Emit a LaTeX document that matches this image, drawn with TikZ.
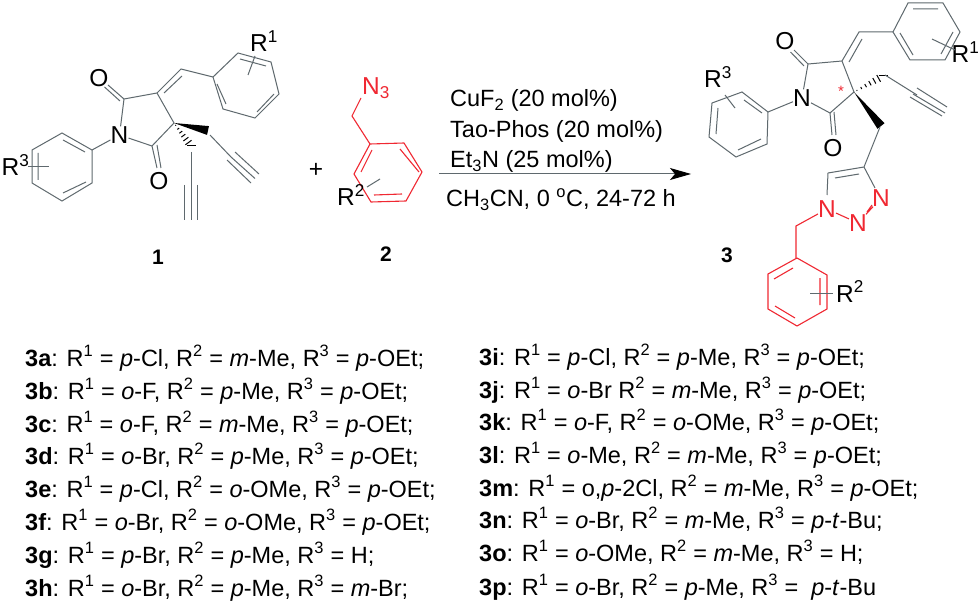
\documentclass[tikz,border=0pt]{standalone}
\usepackage{fontspec}
\setmainfont{Liberation Sans}
\usetikzlibrary{calc,arrows.meta}
\definecolor{azide}{RGB}{240,40,50}
\definecolor{bondgray}{RGB}{95,105,110}
\tikzset{
    bond/.style={bondgray, line width=1pt},
    redbond/.style={azide, line width=1.1pt},
    atomlabel/.style={inner sep=0pt, font=\fontsize{24.5}{26}\selectfont},
    redlabel/.style={atomlabel, text=azide},
    subst/.style={atomlabel, anchor=base west},
    cpdlabel/.style={inner sep=0pt, font=\fontsize{21}{24}\selectfont\bfseries},
    condition/.style={inner sep=0pt, anchor=base west, font=\fontsize{23.5}{26}\selectfont},
    entry/.style={inner sep=0pt, anchor=base west, font=\fontsize{23.5}{26}\selectfont}
}
\newcommand{\wedgebond}[3]{\fill [black] (#1) -- ($(#2)!#3!90:(#1)$) -- ($(#2)!#3!-90:(#1)$) -- cycle;}
\newcommand{\hashbond}[2]{\foreach \t in {0.1,0.25,...,1.01} {
    \draw [bond, black] ($(#1)!\t!(#2)!\t*4.5pt!90:(#2)$) -- ($(#1)!\t!(#2)!\t*4.5pt!-90:(#2)$);}}
\newcommand{\Rsub}[2]{R\textsuperscript{#1} = #2}
\begin{document}
\begin{tikzpicture}[x=1pt, y=-1pt]
    \useasboundingbox [fill=white] (0, 0) rectangle (980, 604);

    % Compound 1
    \node [atomlabel] (n1) at (119.5, 135) {N};
    \node [atomlabel] (o1a) at (99, 78) {O};
    \node [atomlabel] (o1b) at (159, 181) {O};
    \draw [bond] (n1) -- (124, 99) -- (157, 93) -- (174, 123) -- (152, 146) -- (n1);
    \draw [bond] (124, 99) -- (108, 85) (120, 101) -- (104.5, 87);
    \draw [bond] (152, 146) -- (157, 168) (157, 145) -- (161, 168);
    \draw [bond] (157, 93) -- (181, 69) -- (213, 77) (164, 93) -- (182, 76);
    \draw [bond] (213, 77) -- (238, 53) -- (271, 62) -- (279, 94) -- (255, 118) -- (223, 109) -- cycle;
    \draw [bond] (217, 84) -- (226, 104) (257, 112) -- (274, 94) (240, 59) -- (266, 66);
    \node [subst] (r1a) at (250, 52) {R\textsuperscript{1}};
    \draw [bond] (248, 75) -- (255, 56);
    \wedgebond{174, 123}{208, 130.5}{4.5pt}
    \draw [bond] (210, 135) -- (231, 157);
    \draw [bond] (235, 152) -- (259, 174) (231, 157) -- (255, 178.5) (227, 160) -- (251, 183);
    \hashbond{174, 123}{191, 146}
    \draw [bond] (191, 152) -- (191, 220) (184, 185) -- (184, 220) (197.5, 185) -- (197.5, 220);
    \draw [bond] (n1) -- (92, 150);
    \draw [bond] (92, 150) -- (62, 133) -- (32, 150) -- (32, 183) -- (62, 201) -- (92, 183) -- cycle;
    \draw [bond] (63, 140) -- (85, 152) (38, 153) -- (38, 180) (63, 193) -- (86, 182);
    \node [subst] (r3a) at (1.5, 176) {R\textsuperscript{3}};
    \draw [bond] (28, 167) -- (49, 167);
    \node [cpdlabel] (c1) at (158, 257) {1};

    \node [atomlabel] (plus) at (316, 170) {+};

    % Compound 2
    \node [subst, text=azide] (n3) at (362, 95) {N\textsubscript{3}};
    \draw [redbond] (361, 98) -- (352, 116) -- (370, 144);
    \draw [redbond] (370, 144) -- (404, 143) -- (422, 172) -- (406, 201) -- (371, 202) -- (354, 174) -- cycle;
    \draw [redbond] (372, 150) -- (361, 172) (400, 149) -- (419, 172) (374, 195) -- (402, 194);
    \node [subst] (r2a) at (337, 206) {R\textsuperscript{2}};
    \draw [bond] (367, 187) -- (380, 179);
    \node [cpdlabel] (c2) at (386, 254) {2};

    % Reaction
    \coordinate (arrowstart) at (439, 174);
    \coordinate (arrowend) at (691, 174);
    \draw [bondgray, line width=1pt, -{Stealth[black, length=21pt, width=12pt, inset=5pt]}] (arrowstart) -- (arrowend);
    \node [condition] (cond1) at (450, 107) {CuF\textsubscript{2} (20 mol\%)};
    \node [condition] (cond2) at (450, 138) {Tao-Phos (20 mol\%)};
    \node [condition] (cond3) at (450, 168) {Et\textsubscript{3}N (25 mol\%)};
    \node [condition] (cond4) at (446, 207) {CH\textsubscript{3}CN, 0 \textsuperscript{o}C, 24-72 h};

    % Compound 3
    \node [atomlabel] (n2) at (802, 98) {N};
    \node [atomlabel] (o3a) at (785, 41) {O};
    \node [atomlabel] (o3b) at (833, 148) {O};
    \draw [bond] (n2) -- (808, 64) -- (842, 61) -- (854, 92) -- (830, 113) -- (n2);
    \draw [bond] (808, 64) -- (794, 50) (804, 66) -- (790.5, 52);
    \draw [bond] (830, 113) -- (832, 135) (834, 112) -- (836, 135);
    \draw [bond] (842, 61) -- (859, 32) -- (893, 32) (849, 62) -- (862, 39);
    \draw [bond] (893, 32) -- (908, 3) -- (943, 3) -- (960, 32) -- (945, 60) -- (910, 60) -- cycle;
    \draw [bond] (913, 9) -- (938, 9) (953, 32) -- (941, 54) (900, 33) -- (913, 55);
    \node [subst] (r1c) at (951.5, 63) {R\textsuperscript{1}};
    \draw [bond] (932, 39) -- (955, 50);
    \hashbond{854, 92}{883, 76}
    \draw [bond] (885, 75) -- (917, 95);
    \draw [bond] (917, 88) -- (947, 107) (913, 94) -- (945, 113) (910, 97) -- (942, 116);
    \wedgebond{854, 92}{881, 126}{4.5pt}
    \draw [bond] (880, 127) -- (864, 167);
    \draw [bond] (864, 167) -- (828, 173) (859, 174) -- (835, 178);
    \draw [bond] (828, 173) -- (827, 195) (864, 167) -- (875, 188);
    \node [subst] (r3c) at (704, 88) {R\textsuperscript{3}};
    \draw [bond] (n2) -- (768, 112);
    \draw [bond] (768, 112) -- (742, 92) -- (712, 103) -- (709, 137) -- (736, 157) -- (767, 144) -- cycle;
    \draw [bond] (744, 100) -- (762, 113) (718, 108) -- (716, 134) (738, 150) -- (761, 139);
    \draw [bond] (725, 95) -- (735, 108);
    \node [redlabel] (t1) at (827, 209) {N};
    \node [redlabel] (t2) at (858, 223) {N};
    \node [redlabel] (t3) at (881, 198) {N};
    \draw [redbond] (t1) -- (t2);
    \draw [redbond] (t2) -- (t3) (867, 212) -- (872, 205);
    \draw [redbond] (t1) -- (796, 226) -- (796, 258);
    \draw [redbond] (797, 258) -- (827, 275) -- (827, 309) -- (797, 326) -- (768, 309) -- (768, 274) -- cycle;
    \draw [redbond] (793, 268) -- (774, 279) (820, 278) -- (820, 305) (775, 306) -- (795, 318);
    \node [subst] (r2c) at (836, 302) {R\textsuperscript{2}};
    \draw [bond] (810, 293) -- (833, 293);
    \node [redlabel, font=\fontsize{15}{16}\selectfont] (star) at (841, 91) {*};
    \node [cpdlabel] (c3) at (727, 255) {3};

    % Entries, left column
    \node [entry] (e3a) at (25, 366) {\textbf{3a}: \Rsub{1}{\textit{p}-Cl}, \Rsub{2}{\textit{m}-Me}, \Rsub{3}{\textit{p}-OEt};};
    \node [entry] (e3b) at (25, 399) {\textbf{3b}: \Rsub{1}{\textit{o}-F}, \Rsub{2}{\textit{p}-Me}, \Rsub{3}{\textit{p}-OEt};};
    \node [entry] (e3c) at (25, 432) {\textbf{3c}: \Rsub{1}{\textit{o}-F}, \Rsub{2}{\textit{m}-Me}, \Rsub{3}{\textit{p}-OEt};};
    \node [entry] (e3d) at (25, 464) {\textbf{3d}: \Rsub{1}{\textit{o}-Br}, \Rsub{2}{\textit{p}-Me}, \Rsub{3}{\textit{p}-OEt};};
    \node [entry] (e3e) at (25, 497) {\textbf{3e}: \Rsub{1}{\textit{p}-Cl}, \Rsub{2}{\textit{o}-OMe}, \Rsub{3}{\textit{p}-OEt};};
    \node [entry] (e3f) at (25, 530) {\textbf{3f}: \Rsub{1}{\textit{o}-Br}, \Rsub{2}{\textit{o}-OMe}, \Rsub{3}{\textit{p}-OEt};};
    \node [entry] (e3g) at (25, 563) {\textbf{3g}: \Rsub{1}{\textit{p}-Br}, \Rsub{2}{\textit{p}-Me}, \Rsub{3}{H};};
    \node [entry] (e3h) at (25, 596) {\textbf{3h}: \Rsub{1}{\textit{o}-Br}, \Rsub{2}{\textit{p}-Me}, \Rsub{3}{\textit{m}-Br};};

    % Entries, right column
    \node [entry] (e3i) at (479, 365) {\textbf{3i}: \Rsub{1}{\textit{p}-Cl}, \Rsub{2}{\textit{p}-Me}, \Rsub{3}{\textit{p}-OEt};};
    \node [entry] (e3j) at (479, 398) {\textbf{3j}: \Rsub{1}{\textit{o}-Br} \Rsub{2}{\textit{m}-Me}, \Rsub{3}{\textit{p}-OEt};};
    \node [entry] (e3k) at (479, 430) {\textbf{3k}: \Rsub{1}{\textit{o}-F}, \Rsub{2}{\textit{o}-OMe}, \Rsub{3}{\textit{p}-OEt};};
    \node [entry] (e3l) at (479, 463) {\textbf{3l}: \Rsub{1}{\textit{o}-Me}, \Rsub{2}{\textit{m}-Me}, \Rsub{3}{\textit{p}-OEt};};
    \node [entry] (e3m) at (479, 496) {\textbf{3m}: \Rsub{1}{o,\textit{p}-2Cl}, \Rsub{2}{\textit{m}-Me}, \Rsub{3}{\textit{p}-OEt};};
    \node [entry] (e3n) at (479, 528) {\textbf{3n}: \Rsub{1}{\textit{o}-Br}, \Rsub{2}{\textit{m}-Me}, \Rsub{3}{\textit{p}-\textit{t}-Bu};};
    \node [entry] (e3o) at (479, 561) {\textbf{3o}: \Rsub{1}{\textit{o}-OMe}, \Rsub{2}{\textit{m}-Me}, \Rsub{3}{H};};
    \node [entry] (e3p) at (479, 595) {\textbf{3p}: \Rsub{1}{\textit{o}-Br}, \Rsub{2}{\textit{p}-Me}, \Rsub{3}{\ \textit{p}-\textit{t}-Bu}};
\end{tikzpicture}
\end{document}
